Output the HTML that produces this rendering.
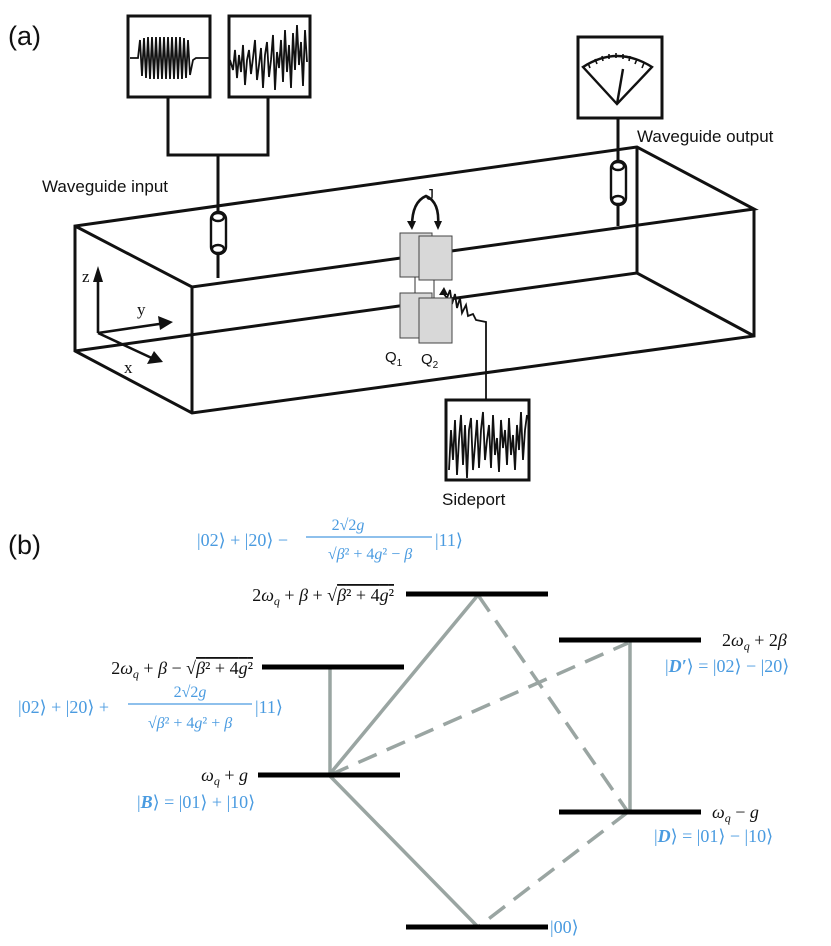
<!DOCTYPE html>
<html><head><meta charset="utf-8"><style>
html,body{margin:0;padding:0;background:#fff;}
svg{display:block;}
.s{font-family:"Liberation Sans",sans-serif;}
.m{font-family:"Liberation Serif","DejaVu Serif",serif;font-size:18px;}
.b{fill:#4a9be0;}
</style></head><body>
<svg width="831" height="946" viewBox="0 0 831 946" xmlns="http://www.w3.org/2000/svg">
<g fill="none" stroke="#111" stroke-width="3">
<polyline points="75,226 192,287 754,209 637,147 75,226 75,351 192,413 754,336 754,209"/>
<line x1="192" y1="287" x2="192" y2="413"/>
<polyline points="75,351 637,273 754,336"/>
<line x1="637" y1="147" x2="637" y2="273"/>
<rect x="128" y="16" width="82" height="81"/>
<rect x="229" y="16" width="81" height="81"/>
<polyline points="168,97 168,155 268,155 268,97"/>
<line x1="218" y1="155" x2="218" y2="278"/>
<rect x="578" y="37" width="84" height="81"/>
<line x1="618" y1="118" x2="618" y2="226"/>
<rect x="446" y="400" width="83" height="80"/>
</g>
<g stroke="#111" stroke-width="2.4" fill="#fff">
<rect x="211" y="212" width="15" height="42" rx="7"/>
<ellipse cx="218" cy="217" rx="6" ry="4"/>
<ellipse cx="218" cy="249" rx="6" ry="4"/>
<rect x="611" y="161" width="15" height="44" rx="7"/>
<ellipse cx="618" cy="166" rx="6" ry="4"/>
<ellipse cx="618" cy="200" rx="6" ry="4"/>
</g>
<g fill="none" stroke="#111" stroke-width="1.8">
<polyline points="130,58 138,58 140,40 142,76 144,38 146,78 148,37 150,79 152,37 154,79 156,37 158,79 160,37 162,79 164,37 166,79 168,37 170,79 172,37 174,79 176,37 178,79 180,37 182,79 184,38 186,78 188,40 190,75 193,60 196,58 209,58"/>
<polyline points="230,60 233,70 235,50 237,78 239,55 241,72 243,45 245,85 247,60 249,50 251,74 253,58 255,40 257,80 259,65 261,48 263,88 265,55 267,42 269,77 271,60 273,35 275,90 277,52 279,68 281,40 283,82 285,30 287,72 289,45 291,88 293,33 295,70 297,25 299,65 301,42 303,86 305,30 307,62"/>
<polyline points="449,470 451,430 453,460 455,420 457,475 459,440 461,415 463,465 465,425 467,478 469,430 471,418 473,470 475,445 477,420 479,468 481,430 483,412 485,460 487,440 489,425 491,468 493,415 495,455 497,438 499,472 501,420 503,448 505,430 507,465 509,418 511,455 513,435 515,470 517,425 519,450 521,412 523,460 525,430 527,415"/>
<polyline points="443,293 447,298 450,290 452,304 455,294 457,308 460,298 462,313 466,305 468,316 473,314 476,320 486,322 486,400"/>
<path d="M583,67 Q617,45 652,67 L617,104 Z" stroke-width="2.4"/>
<line x1="617" y1="104" x2="623" y2="69" stroke-width="2.4"/>
<path d="M588,63 l2,5 M595,59 l2,5 M602,56 l1,5 M609,54 l0,5 M616,53 l0,5 M623,54 l0,5 M630,56 l-1,5 M637,59 l-2,5 M644,63 l-2,5" stroke-width="1.6"/>
<path d="M412,226 Q412,202 426,196 Q440,202 438,226" stroke-width="2.6"/>
<path d="M407,221 l5,9 l4,-9 Z M434,221 l4,9 l4,-9 Z" fill="#111" stroke="none"/>
<g stroke-width="2.6"><polyline points="98,333 98,272"/><polyline points="98,333 166,323"/><polyline points="98,333 156,360"/></g>
<path d="M93,282 L98,266 L103,282 Z M158,316 L173,322 L160,330 Z M147,364 L163,362 L154,351 Z" fill="#111" stroke="none"/>
</g>
<g stroke="#444" stroke-width="1" fill="#d8d8d8">
<rect x="400" y="233" width="32" height="44"/>
<rect x="419" y="236" width="33" height="44"/>
<rect x="400" y="293" width="32" height="45"/>
<rect x="419" y="298" width="33" height="45"/>
</g>
<g stroke="#333" stroke-width="1"><line x1="415" y1="277" x2="415" y2="293"/><line x1="434" y1="280" x2="434" y2="298"/></g>
<path d="M444,287 l-5,8 l9,0 Z" fill="#111"/>
<g class="s" font-size="17" fill="#111">
<text x="8" y="45" font-size="27">(a)</text>
<text x="42" y="192">Waveguide input</text>
<text x="637" y="142">Waveguide output</text>
<text x="426" y="200" font-size="16">J</text>
<text x="385" y="362" font-size="15">Q<tspan font-size="10" dy="4">1</tspan></text>
<text x="421" y="364" font-size="15">Q<tspan font-size="10" dy="4">2</tspan></text>
<text x="442" y="505">Sideport</text>
<text x="8" y="554" font-size="27">(b)</text>
</g>
<g font-family="Liberation Serif,serif" font-size="17" fill="#111">
<text x="82" y="282">z</text><text x="137" y="315">y</text><text x="124" y="373">x</text>
</g>
<g stroke="#9aa5a2" stroke-width="3.5" fill="none">
<polyline points="478,595 329,775 478,927"/>
<line x1="330" y1="667" x2="330" y2="775"/>
<line x1="630" y1="640" x2="630" y2="812"/>
<g stroke-dasharray="20,11">
<line x1="478" y1="595" x2="628" y2="812"/>
<line x1="330" y1="775" x2="628" y2="643"/>
<line x1="628" y1="812" x2="478" y2="927"/>
</g>
</g>
<g stroke="#000" stroke-width="5">
<line x1="406" y1="594" x2="548" y2="594"/>
<line x1="262" y1="667" x2="404" y2="667"/>
<line x1="258" y1="775" x2="400" y2="775"/>
<line x1="559" y1="640" x2="701" y2="640"/>
<line x1="559" y1="812" x2="701" y2="812"/>
<line x1="406" y1="927" x2="548" y2="927"/>
</g>
<g class="m" fill="#111">
<text x="394" y="601" text-anchor="end">2<tspan font-style="italic">ω</tspan><tspan font-size="12" dy="4" font-style="italic">q</tspan><tspan dy="-4"> + </tspan><tspan font-style="italic">β</tspan> + √<tspan text-decoration="overline"><tspan font-style="italic">β</tspan>² + 4<tspan font-style="italic">g</tspan>²</tspan></text>
<text x="253" y="674" text-anchor="end">2<tspan font-style="italic">ω</tspan><tspan font-size="12" dy="4" font-style="italic">q</tspan><tspan dy="-4"> + </tspan><tspan font-style="italic">β</tspan> − √<tspan text-decoration="overline"><tspan font-style="italic">β</tspan>² + 4<tspan font-style="italic">g</tspan>²</tspan></text>
<text x="248" y="781" text-anchor="end"><tspan font-style="italic">ω</tspan><tspan font-size="12" dy="4" font-style="italic">q</tspan><tspan dy="-4"> + </tspan><tspan font-style="italic">g</tspan></text>
<text x="722" y="646">2<tspan font-style="italic">ω</tspan><tspan font-size="12" dy="4" font-style="italic">q</tspan><tspan dy="-4"> + 2</tspan><tspan font-style="italic">β</tspan></text>
<text x="712" y="818"><tspan font-style="italic">ω</tspan><tspan font-size="12" dy="4" font-style="italic">q</tspan><tspan dy="-4"> − </tspan><tspan font-style="italic">g</tspan></text>
</g>
<g class="m b">
<text x="197" y="546">|02⟩ + |20⟩ −</text>
<text x="348" y="530" font-size="16" text-anchor="middle">2√2<tspan font-style="italic">g</tspan></text>
<line x1="306" y1="537" x2="432" y2="537" stroke="#4a9be0" stroke-width="1.3"/>
<text x="370" y="559" font-size="16" text-anchor="middle">√<tspan font-style="italic">β</tspan>² + 4<tspan font-style="italic">g</tspan>² − <tspan font-style="italic">β</tspan></text>
<text x="435" y="546">|11⟩</text>
<text x="18" y="713">|02⟩ + |20⟩ +</text>
<text x="190" y="697" font-size="16" text-anchor="middle">2√2<tspan font-style="italic">g</tspan></text>
<line x1="128" y1="704" x2="252" y2="704" stroke="#4a9be0" stroke-width="1.3"/>
<text x="190" y="728" font-size="16" text-anchor="middle">√<tspan font-style="italic">β</tspan>² + 4<tspan font-style="italic">g</tspan>² + <tspan font-style="italic">β</tspan></text>
<text x="255" y="713">|11⟩</text>
<text x="137" y="808">|<tspan font-weight="bold" font-style="italic">B</tspan>⟩ = |01⟩ + |10⟩</text>
<text x="665" y="672">|<tspan font-weight="bold" font-style="italic">D′</tspan>⟩ = |02⟩ − |20⟩</text>
<text x="654" y="842">|<tspan font-weight="bold" font-style="italic">D</tspan>⟩ = |01⟩ − |10⟩</text>
<text x="550" y="933">|00⟩</text>
</g>
</svg>
</body></html>
